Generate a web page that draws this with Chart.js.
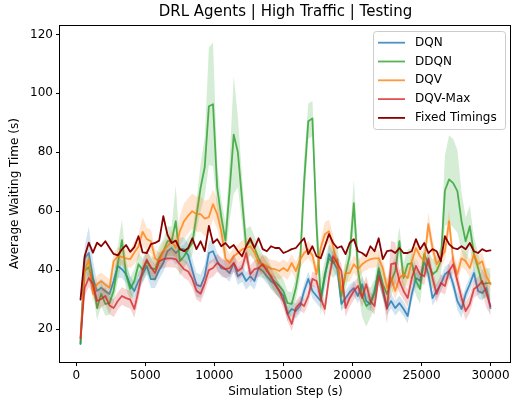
<!DOCTYPE html>
<html>
<head>
<meta charset="utf-8">
<script src="https://cdn.jsdelivr.net/npm/chart.js@4/dist/chart.umd.min.js"></script>
<style>
  html, body { margin: 0; padding: 0; background: #fff; }
  canvas { display: block; }
</style>
</head>
<body>
<canvas id="chart" width="511" height="401"></canvas>
<script>
// simulation steps: 300 .. 30000, every 300
const steps = Array.from({ length: 100 }, (_, i) => (i + 1) * 300);
const xTicks = [0, 5000, 10000, 15000, 20000, 25000, 30000];
const yTicks = [20, 40, 60, 80, 100, 120];

const dqn = [
  15, 44, 45.8, 37.3, 32.9, 34, 32.9, 31.9, 36.3, 41.4,
  40.3, 38.6, 35, 32.9, 36.3, 38.6, 41.4, 36.9, 36.9, 40,
  42.4, 46.4, 47.5, 45.8, 47.1, 47.1, 45, 40, 35, 34.5,
  38, 45.8, 46.4, 43, 40.7, 40.3, 39, 42.4, 37.9, 39,
  36.3, 37.9, 36.3, 40.7, 39.7, 37.9, 36.3, 35.2, 33, 31.2,
  25.1, 26.8, 26.1, 27.8, 32.9, 37, 32.9, 31.2, 29.5, 37.9,
  45.4, 43, 40.3, 28.5, 30.5, 32.5, 33.9, 31.2, 35.2, 29.5,
  28.5, 33, 39.7, 32.9, 27.1, 29.5, 27.1, 28.8, 26.8, 24.4,
  31.9, 37.3, 36.3, 43, 38.6, 30.5, 32.9, 35.2, 38.6, 39.7,
  35.2, 29.5, 26.8, 31.9, 35.2, 39, 32.9, 32.2, 33.9, 27.1
];
const ddqn = [
  15, 39.7, 41, 36.3, 27.1, 31.9, 28.5, 28.8, 32.9, 42,
  50.2, 38.6, 33.6, 36.3, 42, 40, 43, 40.7, 40.3, 44,
  46.4, 49.8, 49.8, 56.6, 43, 44.7, 47.1, 49.2, 58.3, 68,
  75, 95.6, 96.3, 68, 58, 50, 67, 86, 80, 64,
  48, 50, 47.5, 44, 41.4, 40.7, 37.3, 36, 34.6, 32.9,
  28.8, 28.5, 33.9, 42, 70, 90.5, 91.5, 55, 30.5, 38.6,
  44, 42.4, 43.7, 31.2, 38.6, 45, 62.7, 40, 31.2, 27.8,
  29, 31.9, 40.7, 35.2, 31.9, 36.3, 39.7, 49.8, 37.3, 42,
  42.4, 36.3, 33.6, 45.4, 42, 38.6, 39.7, 43, 67, 70.8,
  69.5, 66.8, 56.6, 49.8, 54.9, 45.4, 40.7, 35.2, 35.6, 35.6
];
const dqv = [
  17, 39.7, 43.7, 31.9, 35.2, 36.2, 35, 34, 43, 44.7,
  44.5, 44, 43.7, 46, 48, 53, 50.5, 49.8, 44, 43,
  46.5, 48.1, 49.8, 47.5, 53.2, 56.6, 58.5, 60, 59, 59,
  57.5, 58, 62.4, 59, 53, 44, 42.4, 44.7, 45.8, 47,
  47.5, 48.1, 46, 42.4, 42, 41.4, 40.5, 40.3, 39.7, 40.7,
  39.7, 42.4, 39.7, 43.5, 45.8, 47, 45, 38.6, 47.5, 52.2,
  53.2, 48, 42, 32.9, 39, 39, 42, 40.3, 42, 43,
  43.7, 44, 44, 40.7, 33.9, 37.3, 32.9, 37.3, 38.6, 37.3,
  43, 47.5, 44.7, 43, 55.6, 47.5, 42, 44, 46.4, 56.6,
  43, 38.6, 44, 43, 40.7, 45.4, 42, 43, 37.9, 35.2
];
const dqvMax = [
  16.9, 34, 37.3, 35.2, 29.5, 30.2, 31.2, 28, 27.1, 29.5,
  31.2, 30.5, 30, 26.8, 33, 40, 43.5, 41, 39, 43,
  43.7, 44, 44, 43.7, 42, 40.3, 39.5, 37, 33, 32,
  35.5, 40, 40.7, 42.4, 41.4, 40.3, 40.7, 42.4, 39.7, 40.7,
  45.8, 38.6, 40.3, 40.7, 42, 39.7, 38, 35, 32.9, 29.5,
  25.1, 21.7, 27.1, 28.8, 27.8, 31.2, 37, 36.3, 30.5, 26.8,
  37.3, 44.7, 42.4, 39.7, 27.1, 30.5, 32.9, 34.6, 30.5, 35.2,
  29.5, 27.8, 37.9, 33.9, 26.8, 42, 42.4, 36.3, 32.9, 30.5,
  37.3, 41.4, 38.6, 37.9, 44, 37.3, 31.9, 35.6, 34.6, 39.7,
  42, 36.3, 30.5, 26.1, 28.5, 33.6, 34.6, 36.3, 32.2, 27.8
];
const fixedTimings = [
  30, 44.7, 49.3, 45.9, 49.3, 48.1, 49.8, 47.6, 45.5, 45,
  47, 48.5, 46.2, 47.8, 51.5, 46, 45.8, 48.8, 49.2, 50,
  58.3, 52, 49.2, 50, 47.1, 46.4, 47.5, 50.8, 47.1, 49.8,
  46.4, 55, 49.2, 50.5, 48.1, 49.2, 47.5, 48.5, 46.4, 44.7,
  48.1, 50.8, 47.5, 50.8, 47.1, 46.4, 48.1, 47.5, 47.5, 45.8,
  46.4, 47.1, 47.5, 49.2, 50.8, 45.4, 48.1, 44.7, 44, 48.1,
  52.2, 49.2, 47.5, 48.1, 45.4, 49.2, 50.5, 46.4, 45.8, 44.7,
  48.1, 46.4, 50.8, 43.7, 46.4, 46.7, 45.8, 47.5, 45.8, 45.8,
  46.4, 50.5, 47.1, 49.2, 45.8, 47.1, 46.4, 43, 51.5, 48.8,
  47.5, 47.1, 48.1, 47.1, 49.2, 46.4, 45.8, 47.1, 46.4, 46.7
];

// half-width of the shaded band around each mean line
const dqnSpread = [
  1, 4, 9, 6, 3, 3, 3, 3, 3, 4,
  3, 3, 3, 3, 3, 3, 3, 3, 3, 3,
  3, 3.5, 4, 4, 4, 4, 4, 4, 4, 4,
  4, 4, 3.5, 3, 3, 3, 3, 3, 3, 3,
  3, 3, 3, 3, 2.5, 2.5, 2.5, 2.5, 2.5, 2.5,
  2.5, 2.5, 2.5, 2.5, 2.5, 2.5, 2.5, 2.5, 2.5, 2.5,
  3, 3, 3, 2.5, 2.5, 2.5, 2.5, 2.5, 2.5, 2.5,
  2.5, 2.5, 3, 2.5, 2.5, 2.5, 2.5, 2.5, 2.5, 2.5,
  2.5, 3, 3, 3, 3, 2.5, 2.5, 2.5, 2.5, 2.5,
  2.5, 3, 3, 2.5, 2.5, 2.5, 2.5, 2.5, 2.5, 3
];
const ddqnSpread = [
  1, 4, 4, 4, 4, 4, 4, 4, 4, 6,
  7, 5, 4, 4, 4, 4, 4, 4, 4, 4,
  4, 5, 5, 12, 5, 4, 4, 4, 5, 8,
  10, 20, 21, 8, 6, 6, 10, 20, 12, 8,
  6, 5, 4, 4, 4, 4, 4, 4, 4, 4,
  4, 4, 4, 5, 8, 6, 6, 8, 6, 5,
  5, 5, 5, 5, 5, 6, 8, 7, 7, 7,
  5, 5, 5, 5, 5, 5, 5, 5, 5, 5,
  5, 5, 5, 5, 5, 5, 5, 5, 12, 15,
  15, 14, 10, 8, 7, 6, 5, 5, 5, 5
];
const dqvSpread = [
  1, 3, 3, 3, 3, 3, 3, 3, 3, 3,
  3, 3, 3, 4, 4, 5, 4, 4, 3, 3,
  3, 3, 4, 4, 5, 6, 6, 6, 6, 6,
  6, 6, 5, 5, 4, 4, 3, 3, 3, 3,
  3, 3, 3, 3, 3, 3, 3, 3, 3, 3,
  3, 3, 3, 3, 3, 3, 3, 3, 3, 4,
  4, 4, 3, 3, 3, 3, 3, 3, 3, 3,
  3, 3, 3, 3, 3, 3, 3, 3, 3, 3,
  3, 3, 3, 3, 4, 3, 3, 3, 3, 4,
  3, 3, 3, 3, 3, 3, 3, 3, 3, 3
];
const dqvMaxSpread = [
  1, 3, 3, 3, 3, 3, 3, 3, 3, 3,
  3, 3, 3, 3, 3, 3, 3, 3, 3, 3,
  3, 3, 3, 3, 3, 3, 3, 3, 3, 3,
  3, 3, 3, 3, 3, 3, 3, 3, 3, 3,
  3, 3, 3, 3, 3, 3, 3, 3, 2.5, 2.5,
  2.5, 2.5, 2.5, 2.5, 2.5, 2.5, 2.5, 2.5, 2.5, 2.5,
  2.5, 2.5, 2.5, 2.5, 3, 3, 3, 3, 3, 3,
  3, 3, 3, 3, 5, 8, 7, 4, 3, 3,
  3, 3, 3, 3, 3, 3, 3, 3, 3, 3,
  3, 3, 3, 3, 3, 3, 3, 4, 5, 3
];

const series = [
  { label: "DQN", values: dqn, spread: dqnSpread, rgb: "31,119,180", alpha: 0.8 },
  { label: "DDQN", values: ddqn, spread: ddqnSpread, rgb: "44,160,44", alpha: 0.8 },
  { label: "DQV", values: dqv, spread: dqvSpread, rgb: "255,127,14", alpha: 0.8 },
  { label: "DQV-Max", values: dqvMax, spread: dqvMaxSpread, rgb: "214,39,40", alpha: 0.8 },
  { label: "Fixed Timings", values: fixedTimings, spread: null, rgb: "139,0,0", alpha: 1 },
];

const FONT = "'DejaVu Sans', sans-serif";
const pts = (arr) => arr.map((y, i) => ({ x: steps[i], y }));

const datasets = [];
let order = 0;
series.forEach((s) => {
  if (s.spread) {
    datasets.push({
      data: pts(s.values.map((v, i) => v - s.spread[i])),
      borderWidth: 0, pointRadius: 0, fill: false, order: order--,
    });
    datasets.push({
      data: pts(s.values.map((v, i) => v + s.spread[i])),
      borderWidth: 0, pointRadius: 0, fill: "-1",
      backgroundColor: `rgba(${s.rgb},0.2)`, order: order--,
    });
  }
  datasets.push({
    label: s.label,
    data: pts(s.values),
    borderColor: `rgba(${s.rgb},${s.alpha})`,
    borderWidth: 1.8, pointRadius: 0, fill: false, tension: 0,
    borderJoinStyle: "round", borderCapStyle: "round",
    order: order--,
  });
});

const decor = {
  id: "decor",
  afterDraw(chart) {
    const { ctx, chartArea: a } = chart;
    ctx.save();
    // frame
    ctx.strokeStyle = "#000";
    ctx.lineWidth = 1;
    ctx.strokeRect(Math.round(a.left) - 0.5, Math.round(a.top) + 0.5,
      Math.round(a.right - a.left), Math.round(a.bottom - a.top));

    ctx.fillStyle = "#000";
    ctx.textAlign = "center";
    ctx.textBaseline = "middle";
    ctx.font = `15px ${FONT}`;
    ctx.fillText("DRL Agents | High Traffic | Testing", (a.left + a.right) / 2, 12);

    ctx.font = `12px ${FONT}`;
    ctx.fillText("Simulation Step (s)", (a.left + a.right) / 2, 392);
    ctx.save();
    ctx.translate(15, (a.top + a.bottom) / 2);
    ctx.rotate(-Math.PI / 2);
    ctx.fillText("Average Waiting Time (s)", 0, 0);
    ctx.restore();

    // legend
    const bx = 373.5, by = 31.5, bw = 132, bh = 98, r = 3;
    ctx.beginPath();
    ctx.roundRect(bx, by, bw, bh, r);
    ctx.fillStyle = "rgba(255,255,255,0.8)";
    ctx.fill();
    ctx.strokeStyle = "#cccccc";
    ctx.lineWidth = 1;
    ctx.stroke();
    ctx.textAlign = "left";
    series.forEach((s, k) => {
      const y = 42.7 + k * 18.8;
      ctx.strokeStyle = `rgba(${s.rgb},${s.alpha})`;
      ctx.lineWidth = 1.8;
      ctx.beginPath();
      ctx.moveTo(378, y);
      ctx.lineTo(405, y);
      ctx.stroke();
      ctx.fillStyle = "#000";
      ctx.fillText(s.label, 415, y);
    });
    ctx.restore();
  },
};

const tickStyle = { font: { family: FONT, size: 12 }, color: "#000", padding: 3 };
const gridStyle = { display: true, drawOnChartArea: false, drawTicks: true, tickLength: 4, color: "#000", lineWidth: 1 };

new Chart(document.getElementById("chart"), {
  type: "line",
  data: { datasets },
  options: {
    responsive: false,
    animation: false,
    devicePixelRatio: 1,
    layout: { padding: { top: 25, right: 0, left: 0, bottom: 0 } },
    plugins: { legend: { display: false }, title: { display: false }, tooltip: { enabled: false } },
    scales: {
      x: {
        type: "linear", min: -1185, max: 31485,
        afterBuildTicks: (s) => { s.ticks = xTicks.map((v) => ({ value: v })); },
        afterFit: (s) => { s.height = 39; s.paddingLeft = 0; s.paddingRight = 0; },
        grid: gridStyle, border: { display: false },
        ticks: { ...tickStyle, maxRotation: 0, autoSkip: false, callback: (v) => String(v) },
      },
      y: {
        type: "linear", min: 8.8, max: 123.2,
        afterBuildTicks: (s) => { s.ticks = yTicks.map((v) => ({ value: v })); },
        afterFit: (s) => { s.width = 60; s.paddingTop = 0; s.paddingBottom = 0; },
        grid: gridStyle, border: { display: false },
        ticks: { ...tickStyle, autoSkip: false, callback: (v) => String(v) },
      },
    },
  },
  plugins: [decor],
});
</script>
</body>
</html>
